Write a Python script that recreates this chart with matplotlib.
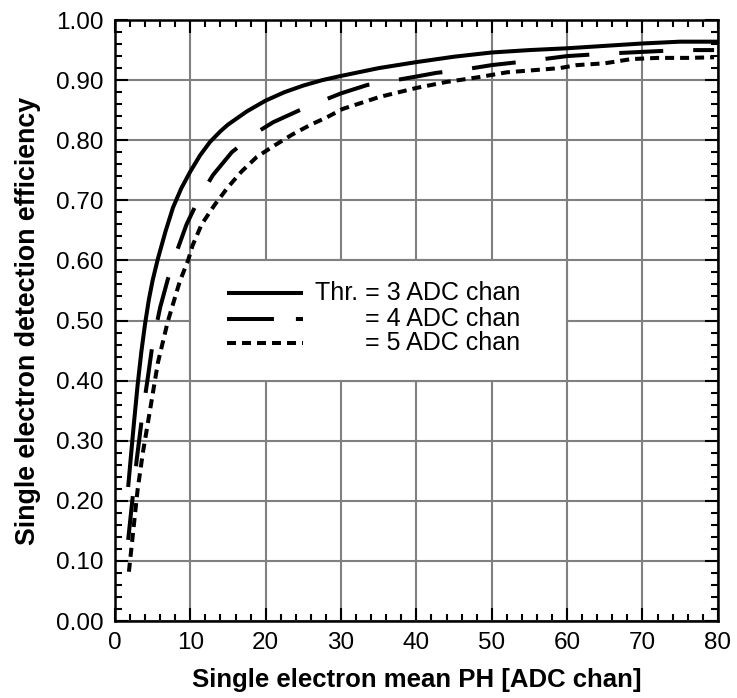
import matplotlib
matplotlib.use("Agg")
import matplotlib.pyplot as plt
from matplotlib.patches import Rectangle
from matplotlib.ticker import MultipleLocator, FormatStrFormatter

plt.rcParams['font.family'] = ['Liberation Sans', 'DejaVu Sans']
plt.rcParams['lines.scale_dashes'] = False

# ---- data ----
thr3_x = [1.75, 2.1, 2.5, 3.0, 3.5, 4.0, 4.5, 5.0, 5.7, 6.7, 7.7, 8.8, 10, 11.3, 12.6, 14, 15, 17.5, 20, 22.5, 25, 27.5, 30, 35, 40, 45, 50, 55, 60, 65, 70, 75, 80]
thr3_y = [0.223, 0.272, 0.327, 0.392, 0.448, 0.495, 0.535, 0.567, 0.603, 0.648, 0.688, 0.720, 0.748, 0.775, 0.797, 0.815, 0.826, 0.848, 0.866, 0.880, 0.891, 0.900, 0.907, 0.920, 0.930, 0.939, 0.946, 0.950, 0.953, 0.957, 0.961, 0.964, 0.964]

thr4_x = [1.75, 2.3, 2.9, 3.6, 4.3, 5.0, 6.0, 7.0, 8.0, 9.5, 11.3, 13, 15.5, 18.8, 21, 24.5, 27.8, 30, 33.5, 36.8, 40, 42.6, 46, 50, 55, 60, 65, 70, 75, 79.5]
thr4_y = [0.135, 0.20, 0.27, 0.34, 0.40, 0.462, 0.522, 0.568, 0.608, 0.660, 0.707, 0.742, 0.780, 0.813, 0.830, 0.850, 0.867, 0.878, 0.892, 0.899, 0.906, 0.912, 0.917, 0.925, 0.932, 0.940, 0.944, 0.947, 0.950, 0.950]

thr5_x = [1.85, 2.4, 3.0, 3.7, 4.6, 5.7, 7.0, 8.6, 9.7, 10.3, 11.5, 13.2, 15, 16.8, 18.8, 21, 23.6, 26, 28.1, 30.2, 35.1, 40, 44, 48.3, 52, 56, 59, 61.3, 65, 68.5, 72, 76, 79.5]
thr5_y = [0.082, 0.147, 0.218, 0.28, 0.347, 0.43, 0.498, 0.565, 0.60, 0.625, 0.66, 0.692, 0.722, 0.748, 0.772, 0.79, 0.81, 0.826, 0.838, 0.852, 0.872, 0.887, 0.897, 0.905, 0.913, 0.917, 0.920, 0.925, 0.928, 0.935, 0.937, 0.937, 0.938]

legend_labels = ["Thr. = 3 ADC chan", "= 4 ADC chan", "= 5 ADC chan"]
xlabel = "Single electron mean PH [ADC chan]"
ylabel = "Single electron detection efficiency"

# ---- figure ----
fig = plt.figure(figsize=(7.37, 6.98), dpi=100)
ax = fig.add_axes([0.156, 0.1103, 0.818, 0.861])

grid_c = '#808080'
ax.set_xlim(0, 80)
ax.set_ylim(0, 1.0)
ax.xaxis.set_major_locator(MultipleLocator(10))
ax.xaxis.set_minor_locator(MultipleLocator(2))
ax.yaxis.set_major_locator(MultipleLocator(0.1))
ax.yaxis.set_minor_locator(MultipleLocator(0.02))
ax.yaxis.set_major_formatter(FormatStrFormatter('%.2f'))
ax.set_axisbelow(True)
ax.grid(True, which='major', color=grid_c, lw=1.5)

ax.tick_params(which='both', direction='in', top=True, right=True, width=1.5, colors='black')
ax.tick_params(which='major', length=9.5, labelsize=17.5, pad=8)
ax.tick_params(which='minor', length=5)
for s in ax.spines.values():
    s.set_linewidth(1.8)

lw = 2.9
ax.plot(thr3_x, thr3_y, color='black', lw=lw, solid_capstyle='butt', solid_joinstyle='round', zorder=3)
ax.plot(thr4_x, thr4_y, color='black', lw=lw, dashes=(31.7, 21.6), dash_capstyle='butt', zorder=3)
ax.plot(thr5_x, thr5_y, color='black', lw=lw, dashes=(6.5, 4.3), dash_capstyle='butt', zorder=3)

# legend box (white, covering grid)
ax.add_patch(Rectangle((10, 0.4), 50, 0.2, facecolor='white', edgecolor=grid_c, lw=1.5, zorder=1))

rows_y = [0.546, 0.503, 0.463]
x0, x1 = 0.1857, 0.3118
styles = [dict(), dict(dashes=(33.8, 15.8, 6.5, 30)), dict(dashes=(6.5, 4.3))]
for yy, st, lab in zip(rows_y, styles, legend_labels):
    ax.plot([x0, x1], [yy, yy], transform=ax.transAxes, color='black', lw=lw,
            solid_capstyle='butt', dash_capstyle='butt', zorder=4, **st)
    ax.text(0.672, yy, lab, transform=ax.transAxes, ha='right', va='center',
            fontsize=18, zorder=5)

ax.set_xlabel(xlabel, fontsize=18.5, fontweight='bold', labelpad=10)
ax.set_ylabel(ylabel, fontsize=19.3, fontweight='bold', labelpad=11)

fig.savefig('out.png', dpi=100)
